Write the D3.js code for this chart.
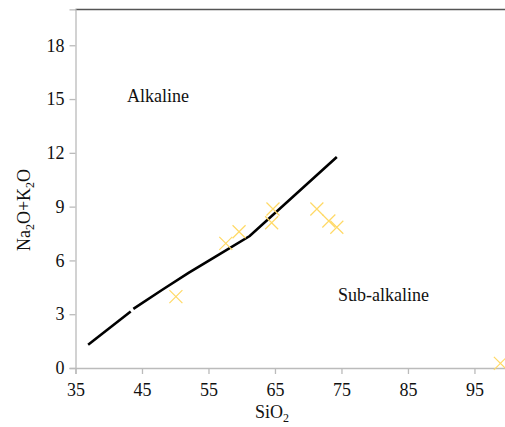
<!DOCTYPE html>
<html>
<head>
<meta charset="utf-8">
<script src="https://cdn.jsdelivr.net/npm/d3@7"></script>
<style>
  body { margin: 0; background: #fff; }
  svg text { font-family: "Times New Roman", Times, Tinos, "Liberation Serif", "Noto Serif", "DejaVu Serif", serif; fill: #111; }
</style>
</head>
<body>
<svg id="chart" width="505" height="427"></svg>
<script>
// samples (SiO2, Na2O+K2O)
var sampleSiO2 = [50.1, 57.6, 59.6, 64.7, 64.5, 71.3, 73.1, 74.3, 98.9];
var sampleAlk  = [3.98, 6.95, 7.6, 8.87, 8.1, 8.87, 8.2, 7.85, 0.26];

// alkaline / sub-alkaline boundary, two pieces
var line1X = [36.9, 43.3];
var line1Y = [1.3, 3.15];
var line2X = [43.7, 48, 52, 56, 61.2, 74.3];
var line2Y = [3.3, 4.35, 5.3, 6.2, 7.36, 11.77];

var xTicks = [35, 45, 55, 65, 75, 85, 95];
var yTicks = [0, 3, 6, 9, 12, 15, 18];

var FONT = '"Times New Roman", Times, Tinos, "Liberation Serif", "Noto Serif", "DejaVu Serif", serif';

var svg = d3.select('#chart');

var x = d3.scaleLinear().domain([35, 100]).range([75.5, 507.7]);
var y = d3.scaleLinear().domain([0, 20]).range([368, 9.4]);

// top border
svg.append('line')
  .attr('x1', x(35)).attr('x2', 505)
  .attr('y1', y(20)).attr('y2', y(20))
  .attr('stroke', '#555').attr('stroke-width', 1.5);

// axes
var xAxis = svg.append('g')
  .attr('transform', 'translate(0,' + y(0) + ')')
  .call(d3.axisBottom(x).tickValues(xTicks).tickSize(6).tickPadding(6));
var yAxis = svg.append('g')
  .attr('transform', 'translate(' + x(35) + ',0)')
  .call(d3.axisLeft(y).tickValues(yTicks).tickSize(6).tickPadding(5));

[xAxis, yAxis].forEach(function(g){
  g.attr('font-family', FONT).attr('font-size', 18);
  g.select('.domain').attr('stroke', '#bbb').attr('stroke-width', 1.3);
  g.selectAll('.tick line').attr('stroke', '#bbb').attr('stroke-width', 1.3);
  g.selectAll('.tick text').attr('fill', '#111');
});
xAxis.selectAll('.tick text').attr('dy', '0.9em');

// boundary lines
var lineGen = d3.line().x(function(d){ return x(d[0]); }).y(function(d){ return y(d[1]); });
[[line1X, line1Y], [line2X, line2Y]].forEach(function(p){
  svg.append('path')
    .datum(p[0].map(function(v, i){ return [v, p[1][i]]; }))
    .attr('d', lineGen)
    .attr('fill', 'none')
    .attr('stroke', '#000')
    .attr('stroke-width', 2.6);
});

// samples as crosses
var s = 6.5;
svg.append('g').selectAll('path')
  .data(sampleSiO2.map(function(v, i){ return [v, sampleAlk[i]]; }))
  .join('path')
  .attr('d', function(d){
    var cx = x(d[0]), cy = y(d[1]);
    return 'M' + (cx - s) + ',' + (cy - s) + 'L' + (cx + s) + ',' + (cy + s) +
           'M' + (cx - s) + ',' + (cy + s) + 'L' + (cx + s) + ',' + (cy - s);
  })
  .attr('stroke', '#ffd966')
  .attr('stroke-width', 1.2)
  .attr('fill', 'none');

// field labels
svg.append('text').attr('x', 127).attr('y', 102).style('font-size', '18px').text('Alkaline');
svg.append('text').attr('x', 338).attr('y', 301).style('font-size', '18px').text('Sub-alkaline');

// axis titles
var xt = svg.append('text').attr('x', 255).attr('y', 418).style('font-size', '18px');
xt.append('tspan').text('SiO');
xt.append('tspan').attr('dy', 4).style('font-size', '12px').text('2');

var yt = svg.append('text')
  .attr('transform', 'translate(30,210) rotate(-90)')
  .attr('text-anchor', 'middle')
  .style('font-size', '18px');
yt.append('tspan').text('Na');
yt.append('tspan').attr('dy', 4).style('font-size', '12px').text('2');
yt.append('tspan').attr('dy', -4).text('O+K');
yt.append('tspan').attr('dy', 4).style('font-size', '12px').text('2');
yt.append('tspan').attr('dy', -4).text('O');
</script>
</body>
</html>
